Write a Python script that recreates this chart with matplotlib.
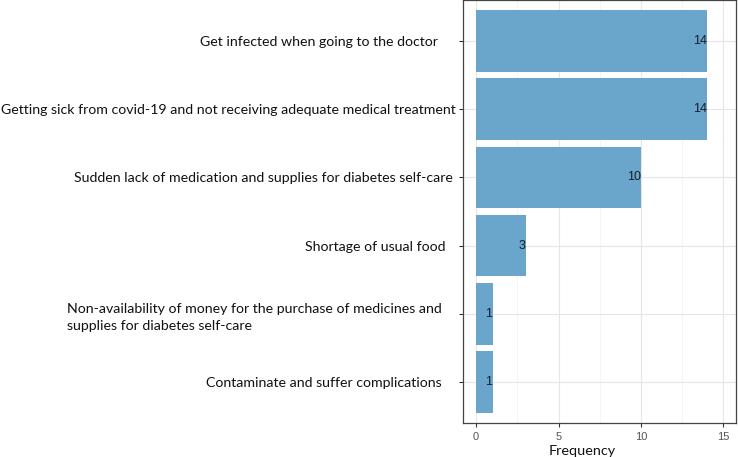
import matplotlib
matplotlib.use("Agg")
import matplotlib.pyplot as plt

labels = [
    "Contaminate and suffer complications    ",
    "Non-availability of money for the purchase of medicines and    \nsupplies for diabetes self-care",
    "Shortage of usual food   ",
    "Sudden lack of medication and supplies for diabetes self-care ",
    "Getting sick from covid-19 and not receiving adequate medical treatment",
    "Get infected when going to the doctor     ",
]
freq = [1, 1, 3, 10, 14, 14]

fig = plt.figure(figsize=(7.38, 4.57), dpi=100)
ax = fig.add_axes([463 / 738, 34 / 457, 273 / 738, 423 / 457])

pos = list(range(1, len(freq) + 1))
ax.barh(pos, freq, height=0.9, color="#6aa6cc", zorder=2)
for p, v in zip(pos, freq):
    ax.text(v, p, str(v), ha="right", va="center", fontsize=9, color="#1a1a2a",
            family="Liberation Sans", zorder=3)

ax.set_xlim(-0.79, 15.76)
ax.set_ylim(0.4, 6.6)
ax.set_xticks([0, 5, 10, 15])
ax.set_xticks([2.5, 7.5, 12.5], minor=True)
ax.set_yticks(pos)
ax.set_yticklabels(labels, fontsize=10.2, family="Lato", color="#111111",
                   multialignment="left", linespacing=1.55)
ax.tick_params(axis="x", labelsize=8, labelcolor="#555555", color="#333333", length=3)
ax.tick_params(axis="x", which="minor", length=0)
ax.tick_params(axis="y", color="#333333", length=3, pad=2)
for t in ax.get_xticklabels():
    t.set_family("Liberation Sans")
ax.grid(True, which="major", color="#e6e6e6", lw=0.8, zorder=0)
ax.grid(True, which="minor", axis="x", color="#f0f0f0", lw=0.5, zorder=0)
ax.set_axisbelow(True)
for s in ax.spines.values():
    s.set_color("#444444")
    s.set_linewidth(0.9)
ax.set_xlabel("Frequency", fontsize=10.4, family="Lato", color="#111111")
ax.xaxis.set_label_coords(0.436, -0.052)

fig.savefig("out.png", dpi=100)
